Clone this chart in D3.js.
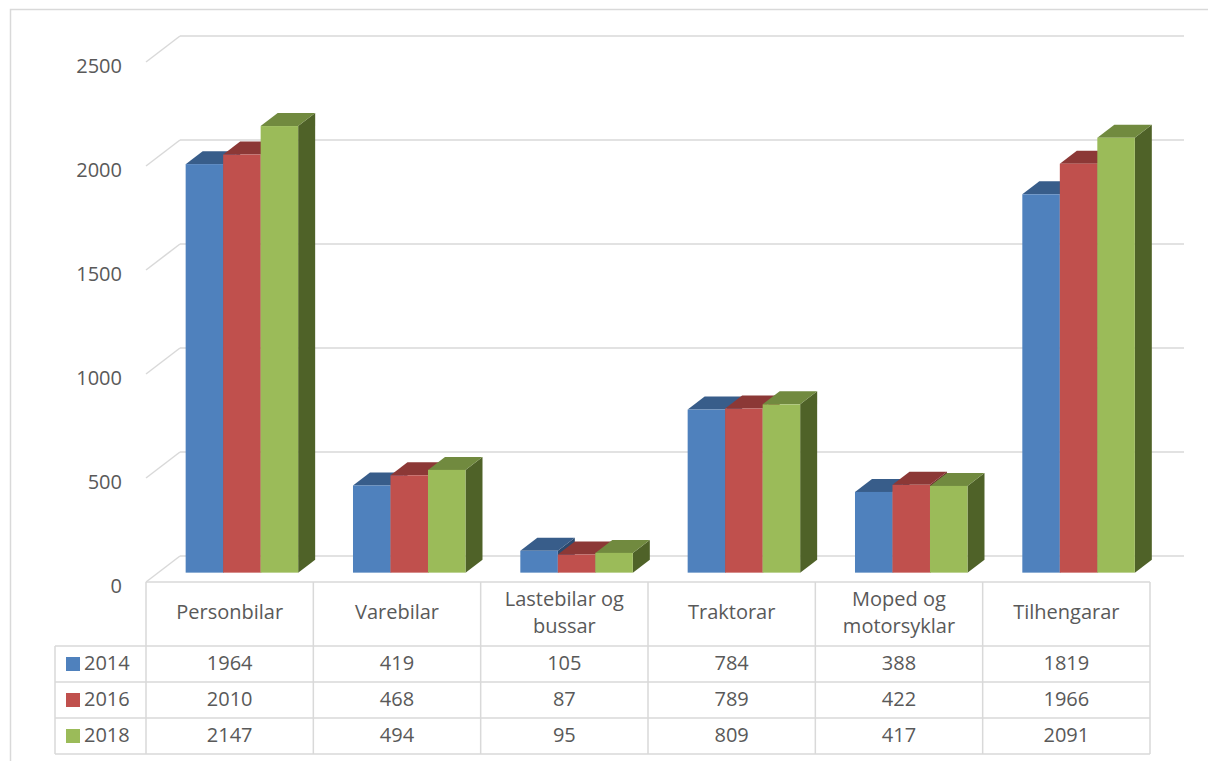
<!DOCTYPE html>
<html>
<head>
<meta charset="utf-8">
<script src="https://cdn.jsdelivr.net/npm/d3@7.9.0/dist/d3.min.js"></script>
<style>
  html, body { margin: 0; padding: 0; background: #fff; }
  svg { display: block; }
  text { font-family: "Open Sans", "Noto Sans", sans-serif; fill: #595959; }
</style>
</head>
<body>
<svg id="chart" width="1208" height="761"></svg>
<script>
// data
const categories = ["Personbilar", "Varebilar", "Lastebilar og bussar", "Traktorar", "Moped og motorsyklar", "Tilhengarar"];
const categoryLines = [["Personbilar"], ["Varebilar"], ["Lastebilar og", "bussar"], ["Traktorar"], ["Moped og", "motorsyklar"], ["Tilhengarar"]];
const years = ["2014", "2016", "2018"];
const values2014 = [1964, 419, 105, 784, 388, 1819];
const values2016 = [2010, 468, 87, 789, 422, 1966];
const values2018 = [2147, 494, 95, 809, 417, 2091];
const yTicks = [0, 500, 1000, 1500, 2000, 2500];

const series = [values2014, values2016, values2018];
const colors = ["#4f81bd", "#c0504d", "#9bbb59"];
const topColors = ["#385d8a", "#8c3836", "#718a3f"];
const sideColors = ["#2c4a6e", "#6e2b29", "#4f6228"];

const svg = d3.select("#chart");
const grid = "#d9d9d9";

// outer frame
svg.append("rect")
  .attr("x", 10.5).attr("y", 9.5)
  .attr("width", 1400).attr("height", 900)
  .attr("fill", "none").attr("stroke", grid).attr("stroke-width", 1.5);

// 3d depth of the floor / walls
const depthX = 34, depthY = -26;
const x0 = 146, x1 = 1150;

const x = d3.scaleBand().domain(categories).range([x0, x1]);
const y = d3.scaleLinear().domain([0, 2500]).range([582, 62]);

// back wall gridlines + left diagonals
yTicks.forEach(t => {
  const yf = y(t);
  svg.append("line")
    .attr("x1", x0 + depthX).attr("x2", x1 + depthX)
    .attr("y1", yf + depthY).attr("y2", yf + depthY)
    .attr("stroke", grid).attr("stroke-width", 1.5);
  svg.append("line")
    .attr("x1", x0).attr("y1", yf)
    .attr("x2", x0 + depthX).attr("y2", yf + depthY)
    .attr("stroke", grid).attr("stroke-width", 1.5);
  svg.append("text")
    .attr("x", 122).attr("y", yf + 6)
    .attr("text-anchor", "end")
    .attr("dominant-baseline", "middle")
    .attr("font-size", 20)
    .text(t);
});

// bars
const groupW = 112.5;
const xb = d3.scaleBand().domain(years).range([0, groupW]);
const front = 0.36, thick = 0.5;
const fx = front * depthX, fy = front * depthY;
const dx = thick * depthX, dy = thick * depthY;

categories.forEach((c, ci) => {
  const gx = x(c) + (x.bandwidth() - groupW) / 2 + fx;
  years.forEach((yr, si) => {
    const v = series[si][ci];
    const bx = gx + xb(yr);
    const bw = xb.bandwidth();
    const top = y(v) + fy;
    const bot = y(0) + fy;
    // side
    svg.append("path")
      .attr("d", `M${bx + bw},${top} L${bx + bw + dx},${top + dy} L${bx + bw + dx},${bot + dy} L${bx + bw},${bot} Z`)
      .attr("fill", sideColors[si]);
    // top
    svg.append("path")
      .attr("d", `M${bx},${top} L${bx + dx},${top + dy} L${bx + bw + dx},${top + dy} L${bx + bw},${top} Z`)
      .attr("fill", topColors[si]);
    // front
    svg.append("rect")
      .attr("x", bx).attr("y", top)
      .attr("width", bw).attr("height", bot - top)
      .attr("fill", colors[si]);
  });
});

// data table
const headerTop = 582, headerBottom = 646, rowH = 36;
const legendX = 55;
const tableBottom = headerBottom + rowH * years.length;
const lineAttr = sel => sel.attr("stroke", grid).attr("stroke-width", 1.5);

// horizontal lines
svg.append("line").attr("x1", x0).attr("x2", x1).attr("y1", headerTop).attr("y2", headerTop).call(lineAttr);
d3.range(years.length + 1).forEach(i => {
  const yy = headerBottom + i * rowH;
  svg.append("line").attr("x1", legendX).attr("x2", x1).attr("y1", yy).attr("y2", yy).call(lineAttr);
});
// vertical lines
svg.append("line").attr("x1", legendX).attr("x2", legendX).attr("y1", headerBottom).attr("y2", tableBottom).call(lineAttr);
categories.forEach(c => {
  svg.append("line").attr("x1", x(c)).attr("x2", x(c)).attr("y1", headerTop).attr("y2", tableBottom).call(lineAttr);
});
svg.append("line").attr("x1", x1).attr("x2", x1).attr("y1", headerTop).attr("y2", tableBottom).call(lineAttr);

// header labels
categories.forEach((c, ci) => {
  const lines = categoryLines[ci];
  const cx = x(c) + x.bandwidth() / 2;
  const cy = (headerTop + headerBottom) / 2;
  lines.forEach((ln, li) => {
    svg.append("text")
      .attr("x", cx)
      .attr("y", cy + (li - (lines.length - 1) / 2) * 27)
      .attr("text-anchor", "middle")
      .attr("dominant-baseline", "middle")
      .attr("font-size", 20)
      .text(ln);
  });
});

// rows
years.forEach((yr, si) => {
  const cy = headerBottom + si * rowH + rowH / 2;
  svg.append("rect")
    .attr("x", 66).attr("y", cy - 7)
    .attr("width", 14).attr("height", 14)
    .attr("fill", colors[si]);
  svg.append("text")
    .attr("x", 84).attr("y", cy + 1)
    .attr("dominant-baseline", "middle")
    .attr("font-size", 20)
    .text(yr);
  categories.forEach((c, ci) => {
    svg.append("text")
      .attr("x", x(c) + x.bandwidth() / 2)
      .attr("y", cy + 1)
      .attr("text-anchor", "middle")
      .attr("dominant-baseline", "middle")
      .attr("font-size", 20)
      .text(series[si][ci]);
  });
});
</script>
</body>
</html>
